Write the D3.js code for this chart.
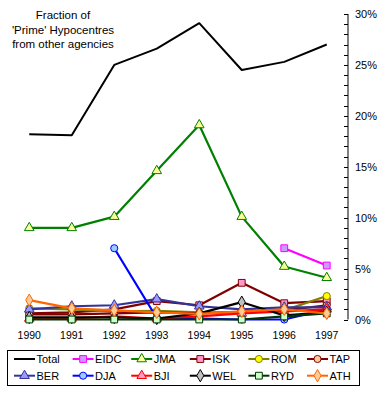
<!DOCTYPE html>
<html><head><meta charset="utf-8">
<script src="https://cdn.jsdelivr.net/npm/d3@7"></script>
<style>body{margin:0;background:#fff}svg{display:block;font-family:"Liberation Sans",Arial,sans-serif}</style>
</head><body>
<svg id="c" width="383" height="403"></svg>
<script>
const years = ["1990","1991","1992","1993","1994","1995","1996","1997"];
const yTicks = [0,5,10,15,20,25,30];
const titleLines = ["Fraction of","'Prime' Hypocentres","from other agencies"];
const seriesNames = ["Total","EIDC","JMA","ISK","ROM","TAP","BER","DJA","BJI","WEL","RYD","ATH"];
const total = [18.2,18.1,25.0,26.6,29.1,24.5,25.3,27.0];
const eidc  = [null,null,null,null,null,null,7.0,5.3];
const jma   = [9.0,9.0,10.1,14.6,19.1,10.1,5.2,4.1];
const isk   = [0.6,0.7,1.0,1.8,1.4,3.6,1.6,1.8];
const rom   = [1.1,1.0,0.8,0.85,0.7,0.7,0.9,2.3];
const tap   = [0.5,0.5,0.6,0.7,0.6,0.7,0.9,1.4];
const ber   = [1.0,1.3,1.4,2.0,1.3,1.0,1.2,1.2];
const dja   = [null,null,7.0,0.15,0.1,0.0,0.0,1.0];
const bji   = [0.1,0.1,0.3,0.1,0.3,0.6,0.8,1.0];
const wel   = [0.2,0.2,0.2,0.1,0.6,1.7,0.4,0.7];
const ryd   = [0.0,0.0,0.0,0.0,0.0,0.0,0.3,0.6];
const ath   = [1.9,1.1,0.9,0.7,0.55,0.8,1.0,0.6];

const values = [total,eidc,jma,isk,rom,tap,ber,dja,bji,wel,ryd,ath];
const styles = {
  Total:{c:"#000000",m:null,f:null},
  EIDC:{c:"#FF00FF",m:"square",f:"#CC99FF"},
  JMA:{c:"#008000",m:"triangle",f:"#FFFF99"},
  ISK:{c:"#800000",m:"square",f:"#FF99CC"},
  ROM:{c:"#808000",m:"circle",f:"#FFFF00"},
  TAP:{c:"#800000",m:"circle",f:"#FFCC99"},
  BER:{c:"#333399",m:"triangle",f:"#9999FF"},
  DJA:{c:"#0000FF",m:"circle",f:"#99CCFF"},
  BJI:{c:"#FF0000",m:"triangle",f:"#FF99CC"},
  WEL:{c:"#000000",m:"diamond",f:"#C0C0C0"},
  RYD:{c:"#003300",m:"square",f:"#CCFFCC"},
  ATH:{c:"#FF6600",m:"diamond",f:"#FFCC99"}
};
const series = seriesNames.map((n,i)=>({name:n,vals:values[i],...styles[n]}));

const svg = d3.select("#c");
const x = d3.scaleBand().domain(years).range([8,348]);
const y = d3.scaleLinear().domain([0,30]).range([319.5,14]);
const cx = d => x(d)+x.bandwidth()/2;

const symType = {square:d3.symbolSquare,triangle:d3.symbolTriangle,circle:d3.symbolCircle,diamond:d3.symbolDiamond};
const symSize = {square:46,triangle:40,circle:40,diamond:44};
function marker(g,s,px,py){
  if(!s.m) return;
  g.append("path").attr("d",d3.symbol().type(symType[s.m]).size(symSize[s.m])())
   .attr("transform",`translate(${px},${py})`)
   .attr("fill",s.f).attr("stroke",s.c).attr("stroke-width",1);
}

// Title
const t = svg.append("text").attr("font-size",11.5).attr("text-anchor","middle").attr("fill","#000");
titleLines.forEach((l,i)=>t.append("tspan").attr("x",63).attr("y",19+i*14.5).text(l));

// Right axis
const ax = svg.append("g").attr("transform","translate(348,0)");
ax.append("line").attr("x1",0).attr("x2",0).attr("y1",y(30)).attr("y2",y(0)).attr("stroke","#000");
ax.selectAll("line.t").data(d3.range(0,31)).join("line").attr("class","t")
  .attr("x1",-4).attr("x2",0).attr("y1",d=>Math.round(y(d))+0.5).attr("y2",d=>Math.round(y(d))+0.5).attr("stroke","#000");
ax.selectAll("text").data(yTicks).join("text").attr("x",7).attr("y",d=>y(d)+4)
  .attr("font-size",11).text(d=>d+"%");

// X labels
svg.selectAll("text.xl").data(years).join("text").attr("class","xl")
  .attr("x",d=>cx(d)).attr("y",339).attr("text-anchor","middle").attr("font-size",10.5).attr("font-weight","normal").text(d=>d);

// Lines
const line = d3.line().defined(d=>d.v!=null).x(d=>cx(d.yr)).y(d=>y(d.v));
series.forEach(s=>{
  const pts = years.map((yr,i)=>({yr,v:s.vals[i]}));
  const g = svg.append("g");
  g.append("path").datum(pts).attr("d",line).attr("fill","none").attr("stroke",s.c)
    .attr("stroke-width",s.name==="Total"?2:2.2).attr("stroke-linejoin","round");
  pts.filter(p=>p.v!=null).forEach(p=>marker(g,s,cx(p.yr),y(p.v)));
});

// Legend
const lg = svg.append("g");
lg.append("rect").attr("x",7.5).attr("y",350.5).attr("width",352).attr("height",35).attr("fill","#fff").attr("stroke","#000");
series.forEach((s,i)=>{
  const col=i%6,row=Math.floor(i/6);
  const lx=14+col*58.6, ly=359+row*16.7;
  lg.append("line").attr("x1",lx).attr("x2",lx+21).attr("y1",ly).attr("y2",ly).attr("stroke",s.c).attr("stroke-width",2);
  marker(lg,s,lx+10.5,ly);
  lg.append("text").attr("x",lx+22.5).attr("y",ly+4).attr("font-size",11).text(s.name);
});
</script>
</body></html>
